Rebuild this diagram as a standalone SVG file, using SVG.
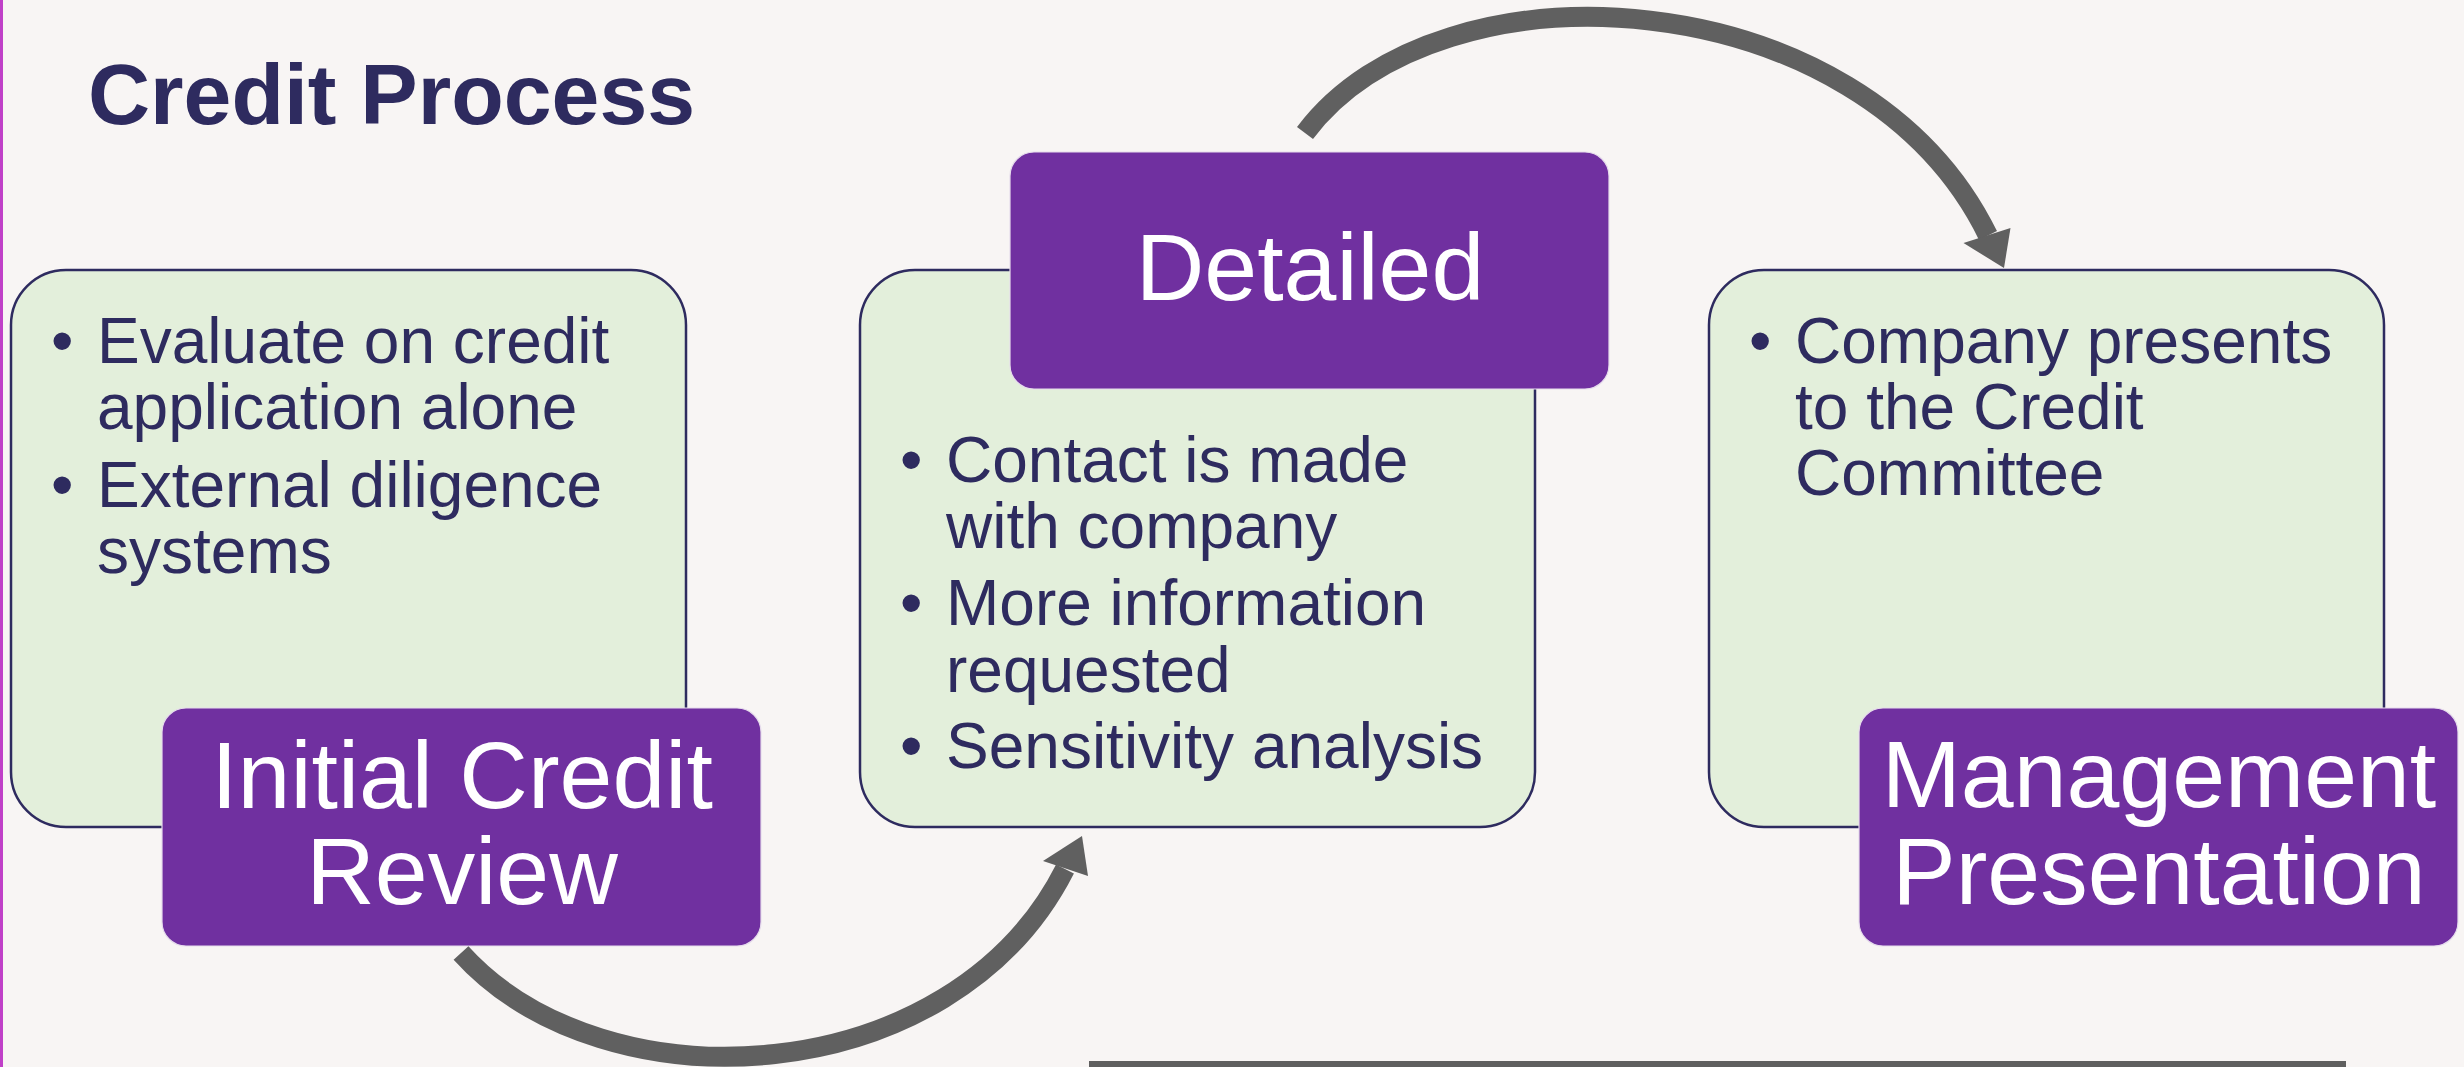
<svg xmlns="http://www.w3.org/2000/svg" width="2464" height="1067" viewBox="0 0 2464 1067">
<defs>
<style>
.bg{fill:#F8F5F4}
.box{fill:#E3EFDB;stroke:#2E2B5F;stroke-width:2.5}
.lbl{fill:#7030A0;stroke:#E6DCEC;stroke-width:1.2}
.body{font-family:"Liberation Sans",Arial,sans-serif;font-size:64px;fill:#2E2B5F}
.head{font-family:"Liberation Sans",Arial,sans-serif;font-size:95px;fill:#FFFFFF;text-anchor:middle}
.title{font-family:"Liberation Sans",Arial,sans-serif;font-size:86px;font-weight:bold;fill:#2E2B5F}
.shaft{fill:none;stroke:#606060;stroke-width:20;stroke-linecap:butt}
.head-tip{fill:#606060}
</style>
</defs>
<rect class="bg" x="0" y="0" width="2464" height="1067"/>
<rect x="0" y="0" width="3" height="1067" fill="#C040C8"/>
<text class="title" x="88" y="124">Credit Process</text>

<g id="box-initial">
<rect class="box" x="11" y="270" width="675" height="557" rx="55" ry="55"/>
<text class="body" x="51" y="363">•</text>
<text class="body" x="97" y="363">Evaluate on credit</text>
<text class="body" x="97" y="429">application alone</text>
<text class="body" x="51" y="507">•</text>
<text class="body" x="97" y="507">External diligence</text>
<text class="body" x="97" y="573">systems</text>
</g>

<g id="box-detailed">
<rect class="box" x="860" y="270" width="675" height="557" rx="55" ry="55"/>
<text class="body" x="900" y="482">•</text>
<text class="body" x="946" y="482">Contact is made</text>
<text class="body" x="946" y="548">with company</text>
<text class="body" x="900" y="625">•</text>
<text class="body" x="946" y="625">More information</text>
<text class="body" x="946" y="692">requested</text>
<text class="body" x="900" y="768">•</text>
<text class="body" x="946" y="768">Sensitivity analysis</text>
</g>

<g id="box-management">
<rect class="box" x="1709" y="270" width="675" height="557" rx="55" ry="55"/>
<text class="body" x="1749" y="363">•</text>
<text class="body" x="1795" y="363">Company presents</text>
<text class="body" x="1795" y="429">to the Credit</text>
<text class="body" x="1795" y="495">Committee</text>
</g>

<g id="label-initial">
<rect class="lbl" x="162" y="708" width="599" height="238" rx="24" ry="24"/>
<text class="head" x="462" y="808">Initial Credit</text>
<text class="head" x="462" y="904">Review</text>
</g>

<g id="label-detailed">
<rect class="lbl" x="1010" y="152" width="599" height="237" rx="24" ry="24"/>
<text class="head" x="1310" y="300">Detailed</text>
</g>

<g id="label-management">
<rect class="lbl" x="1859" y="708" width="599" height="238" rx="24" ry="24"/>
<text class="head" x="2159" y="807">Management</text>
<text class="head" x="2159" y="904">Presentation</text>
</g>

<g id="connectors">
<path class="shaft" d="M461,953 C605,1112 952.5,1091.5 1065,869"/>
<polygon class="head-tip" points="1082,836 1088,876 1043,861"/>
<path class="shaft" d="M1305,133 C1440,-47 1862.6,-21 1988,235.5"/>
<polygon class="head-tip" points="2004,268 1963.5,243 2010.5,228"/>
</g>

<rect x="1089" y="1061" width="1257" height="6" fill="#5F5F5F"/>
</svg>
